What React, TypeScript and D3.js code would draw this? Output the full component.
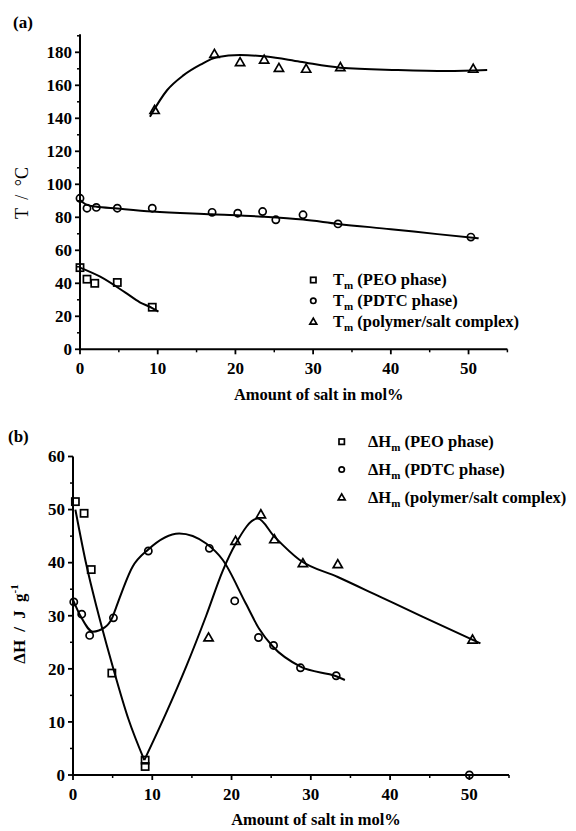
import React from "react";
import * as d3 from "d3";

// ---------- data ----------
const xTicks = [0, 10, 20, 30, 40, 50];
const xMinor = [5, 15, 25, 35, 45, 55];
const yTicksA = [0, 20, 40, 60, 80, 100, 120, 140, 160, 180];
const yMinorA = [10, 30, 50, 70, 90, 110, 130, 150, 170, 190];
const yTicksB = [0, 10, 20, 30, 40, 50, 60];
const yMinorB = [5, 15, 25, 35, 45, 55];

// Panel (a): melting temperatures
const peoTmPts: [number, number][] = [[0, 49.5], [0.9, 42.5], [1.9, 40], [4.8, 40.5], [9.3, 25.5]];
const pdtcTmPts: [number, number][] = [[0, 91.5], [0.9, 85.5], [2.1, 86], [4.8, 85.5], [9.3, 85.5], [17, 83], [20.3, 82.5], [23.5, 83.5], [25.2, 78.5], [28.7, 81.5], [33.2, 76], [50.3, 68]];
const cplxTmPts: [number, number][] = [[9.6, 145], [17.3, 179], [20.6, 174], [23.7, 175.5], [25.6, 170.5], [29.1, 170], [33.5, 171], [50.6, 170]];
const peoTmFit: [number, number][] = [[0, 49.5], [2.6, 44], [5.8, 34.5], [7.7, 28.5], [9.3, 25], [10.1, 22.8]];
const pdtcTmFit: [number, number][] = [[0, 90.5], [0.9, 87.5], [2, 86.5], [4.8, 85.3], [9.3, 83.5], [17, 81.8], [23.5, 80.4], [28.7, 78.6], [33.2, 76], [40, 72.8], [46, 69.8], [51.3, 67.3]];
const cplxTmFit: [number, number][] = [[9.0, 141], [11.2, 157], [13.3, 166], [15.5, 172.5], [17.6, 177], [20.6, 178.3], [24, 177.4], [28.3, 174.3], [33.5, 170.7], [40.8, 169.3], [47.2, 168.7], [52.4, 169.3]];

// Panel (b): enthalpies
const peoHPts: [number, number][] = [[0.3, 51.5], [1.4, 49.3], [2.3, 38.7], [4.9, 19.2], [9.1, 1.6], [9.1, 2.8]];
const pdtcHPts: [number, number][] = [[0.1, 32.6], [1.1, 30.3], [2.1, 26.3], [5.1, 29.6], [9.5, 42.2], [17.2, 42.7], [20.4, 32.8], [23.4, 25.9], [25.3, 24.4], [28.7, 20.2], [33.2, 18.7], [50, 0]];
const cplxHPts: [number, number][] = [[17.1, 25.9], [20.5, 44.1], [23.7, 49.1], [25.4, 44.4], [29, 39.9], [33.4, 39.7], [50.4, 25.5]];
const peoHFit: [number, number][] = [[0.3, 50], [1.7, 39.5], [3.0, 31.5], [4.25, 24.5], [5, 20.5], [7, 10.5], [9, 2.8]];
const pdtcHFit: [number, number][] = [[0, 33], [1, 29.8], [2.5, 27], [4, 27.8], [5, 29.8], [5.4, 31.4], [7.5, 39.2], [9.5, 42.5], [13.4, 45.5], [16.8, 43.6], [18.9, 40.5], [21.8, 32.3], [23.5, 27.5], [25.2, 24.2], [28.7, 20.4], [33.2, 18.6], [34.3, 17.9]];
const cplxHFit: [number, number][] = [[9.0, 2.8], [11.7, 11.5], [14.3, 20.5], [16.8, 30], [18.9, 38.5], [20.5, 43.5], [23.3, 48.3], [25.4, 44.9], [28.6, 40.5], [33.4, 37.3], [38.7, 33.6], [44, 29.9], [51.4, 24.8]];

const legendA = ["(PEO phase)", "(PDTC phase)", "(polymer/salt complex)"];
const legendB = ["(PEO phase)", "(PDTC phase)", "(polymer/salt complex)"];

const FONT = "'Liberation Serif', 'Times New Roman', serif";

type Shape = "square" | "circle" | "triangle";

function Marker({ x, y, shape, s = 1 }: { x: number; y: number; shape: Shape; s?: number }) {
  const common = { fill: "none", stroke: "#000", strokeWidth: 1.7 };
  if (shape === "square") {
    const h = 3.6 * s;
    return <rect x={x - h} y={y - h} width={2 * h} height={2 * h} {...common} />;
  }
  if (shape === "circle") {
    return <circle cx={x} cy={y} r={3.6 * s} {...common} />;
  }
  const a = 4.6 * s;
  const pts = `${x},${y - a} ${x - a},${y + a * 0.75} ${x + a},${y + a * 0.75}`;
  return <polygon points={pts} {...common} strokeLinejoin="miter" />;
}

function Panel({
  xs, ys, yTicks, yMinor, yTop, series, label, labelY,
}: {
  xs: d3.ScaleLinear<number, number>;
  ys: d3.ScaleLinear<number, number>;
  yTicks: number[]; yMinor: number[]; yTop: number;
  series: { pts: [number, number][]; fit: [number, number][]; shape: Shape }[];
  label: string; labelY: number;
}) {
  const x0 = xs(0);
  const y0 = ys(0);
  const line = d3.line<[number, number]>()
    .x((d) => xs(d[0]))
    .y((d) => ys(d[1]))
    .curve(d3.curveMonotoneX);
  return (
    <g>
      {/* axes */}
      <line x1={x0} x2={x0} y1={y0} y2={ys(yTop)} stroke="#000" strokeWidth={2} />
      <line x1={x0 - 1} x2={xs(55)} y1={y0} y2={y0} stroke="#000" strokeWidth={2} />
      {yTicks.map((t) => (
        <g key={"yt" + t}>
          <line x1={x0 - 5} x2={x0} y1={ys(t)} y2={ys(t)} stroke="#000" strokeWidth={1.8} />
          <text x={x0 - 8} y={ys(t)} dy="0.34em" textAnchor="end" fontFamily={FONT} fontWeight="bold" fontSize={17}>{t}</text>
        </g>
      ))}
      {yMinor.map((t) => (
        <line key={"ym" + t} x1={x0 - 3} x2={x0} y1={ys(t)} y2={ys(t)} stroke="#000" strokeWidth={1.5} />
      ))}
      {xTicks.map((t) => (
        <g key={"xt" + t}>
          <line x1={xs(t)} x2={xs(t)} y1={y0} y2={y0 + 5} stroke="#000" strokeWidth={1.8} />
          <text x={xs(t)} y={y0 + 25} textAnchor="middle" fontFamily={FONT} fontWeight="bold" fontSize={17}>{t}</text>
        </g>
      ))}
      {xMinor.map((t) => (
        <line key={"xm" + t} x1={xs(t)} x2={xs(t)} y1={y0} y2={y0 + 3} stroke="#000" strokeWidth={1.5} />
      ))}
      <text x={(xs(0) + xs(55)) / 2 + 25} y={labelY} textAnchor="middle" fontFamily={FONT} fontWeight="bold" fontSize={16.5}>{label}</text>
      {/* fits */}
      {series.map((s, i) => (
        <path key={"f" + i} d={line(s.fit) || ""} fill="none" stroke="#000" strokeWidth={2} />
      ))}
      {/* points */}
      {series.map((s, i) =>
        s.pts.map((p, j) => <Marker key={"p" + i + "-" + j} x={xs(p[0])} y={ys(p[1])} shape={s.shape} />)
      )}
    </g>
  );
}

export default function App() {
  const xA = d3.scaleLinear().domain([0, 55]).range([80, 507.4]);
  const yA = d3.scaleLinear().domain([0, 180]).range([349.3, 52.3]);
  const xB = d3.scaleLinear().domain([0, 55]).range([73, 509]);
  const yB = d3.scaleLinear().domain([0, 60]).range([775, 456.5]);
  const shapes: Shape[] = ["square", "circle", "triangle"];

  return (
    <svg width={576} height={831} style={{ position: "absolute", left: 0, top: 0, background: "#fff" }}>
      <rect width={576} height={831} fill="#fff" />
      {/* panel a */}
      <text x={13} y={28} fontFamily={FONT} fontWeight="bold" fontSize={17}>(a)</text>
      <text transform="translate(28,193) rotate(-90)" textAnchor="middle" fontFamily={FONT} fontSize={18} fill="#000" style={{ wordSpacing: "4px" }}>T / °C</text>
      <Panel
        xs={xA} ys={yA} yTicks={yTicksA} yMinor={yMinorA} yTop={191}
        series={[
          { pts: peoTmPts, fit: peoTmFit, shape: "square" },
          { pts: pdtcTmPts, fit: pdtcTmFit, shape: "circle" },
          { pts: cplxTmPts, fit: cplxTmFit, shape: "triangle" },
        ]}
        label="Amount of salt in mol%" labelY={400}
      />
      {legendA.map((t, i) => (
        <g key={"la" + i}>
          <Marker x={313.3} y={280 + i * 20.8} shape={shapes[i]} s={0.75} />
          <text x={333} y={285 + i * 20.8} fontFamily={FONT} fontWeight="bold" fontSize={16.5}>
            T<tspan fontSize={11} dy={4}>m</tspan><tspan dy={-4}> {t}</tspan>
          </text>
        </g>
      ))}

      {/* panel b */}
      <text x={8} y={442} fontFamily={FONT} fontWeight="bold" fontSize={17}>(b)</text>
      <text transform="translate(25,624) rotate(-90)" textAnchor="middle" fontFamily={FONT} fontWeight="bold" fontSize={17} style={{ wordSpacing: "4px" }}>
        ΔH / J g<tspan fontSize={11} dy={-7}>-1</tspan>
      </text>
      <Panel
        xs={xB} ys={yB} yTicks={yTicksB} yMinor={yMinorB} yTop={60}
        series={[
          { pts: peoHPts, fit: peoHFit, shape: "square" },
          { pts: pdtcHPts, fit: pdtcHFit, shape: "circle" },
          { pts: cplxHPts, fit: cplxHFit, shape: "triangle" },
        ]}
        label="Amount of salt in mol%" labelY={825}
      />
      {legendB.map((t, i) => (
        <g key={"lb" + i}>
          <Marker x={341.7} y={441.7 + i * 27.8} shape={shapes[i]} s={0.75} />
          <text x={368} y={447 + i * 27.8} fontFamily={FONT} fontWeight="bold" fontSize={16.5}>
            ΔH<tspan fontSize={11} dy={4}>m</tspan><tspan dy={-4}> {t}</tspan>
          </text>
        </g>
      ))}
    </svg>
  );
}
